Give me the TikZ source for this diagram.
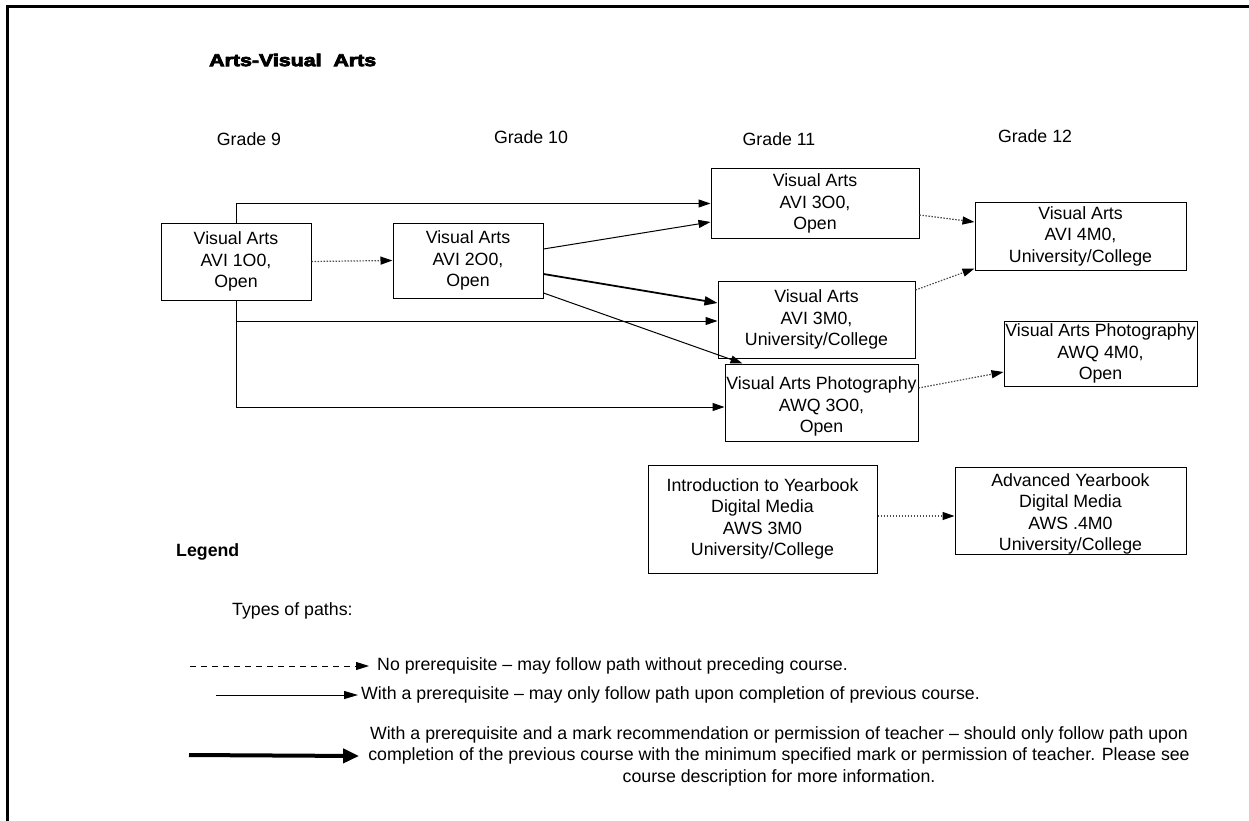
\documentclass[tikz,border=0pt]{standalone}
\usepackage{fontspec}
\setmainfont{Liberation Sans}
\newfontfamily\heavyfont[FakeBold=4]{Liberation Sans Bold}
\usetikzlibrary{arrows.meta}
\newcommand\bodysize{\fontsize{17.75pt}{21.5pt}\selectfont}

\begin{document}
\begin{tikzpicture}[x=1pt,y=-1pt,
  course/.style={draw, line width=1pt, align=center, inner sep=0pt, font=\bodysize},
  plaintext/.style={font=\bodysize, inner sep=0pt},
  reqarrow/.style={line width=1pt, -{Triangle[length=12pt,width=8pt]}},
  markarrow/.style={line width=1.8pt, -{Triangle[length=13pt,width=9pt]}},
  freearrow/.style={line width=1.2pt, black!70, dash pattern=on 1.5pt off 1.5pt,
    -{Triangle[length=12pt,width=8pt,color=black]}},
  legdash/.style={line width=0.9pt, dash pattern=on 6pt off 5pt,
    -{Triangle[length=13pt,width=8pt]}},
  legsolid/.style={line width=1pt, -{Triangle[length=14pt,width=8pt]}},
  legthick/.style={line width=4pt, -{Triangle[length=16pt,width=14pt]}}]

\useasboundingbox (0,0) rectangle (1249,821);
\fill[white] (0,0) rectangle (1249,821);

% page frame (top and left edges)
\draw[line width=3pt] (7.5,821) -- (7.5,6.5) -- (1249,6.5);

% heading
\node[anchor=west, inner sep=0pt] (title) at (209,60)
  {\resizebox{167pt}{12.5pt}{\heavyfont Arts-Visual\ \ Arts}};

% grade headings
\node[plaintext] (g9)  at (249,139) {Grade 9};
\node[plaintext] (g10) at (531,137) {Grade 10};
\node[plaintext] (g11) at (779,139) {Grade 11};
\node[plaintext] (g12) at (1035,136) {Grade 12};

% courses
\node[course, minimum width=150pt, minimum height=77pt] (b1) at (236,261.5)
  {Visual Arts\\AVI 1O0,\\Open};
\node[course, minimum width=150pt, minimum height=75pt] (b2) at (468,260.5)
  {Visual Arts\\AVI 2O0,\\Open};
\node[course, minimum width=208pt, minimum height=69pt] (b3) at (815,203.5)
  {Visual Arts\\AVI 3O0,\\Open};
\node[course, minimum width=197pt, minimum height=77pt] (b4) at (816.5,319.5)
  {Visual Arts\\AVI 3M0,\\University/College};
\node[course, minimum width=193pt, minimum height=77pt, text height=60pt, text depth=0pt]
  (b5) at (821.5,402.5) {Visual Arts Photography\\AWQ 3O0,\\Open};
\node[course, minimum width=211pt, minimum height=68pt] (b6) at (1080.5,236)
  {Visual Arts\\AVI 4M0,\\University/College};
\node[course, minimum width=193pt, minimum height=65pt] (b7) at (1100.5,353.5)
  {Visual Arts Photography\\AWQ 4M0,\\Open};
\node[course, minimum width=229pt, minimum height=108pt] (b8) at (762.5,519)
  {Introduction to Yearbook\\Digital Media\\AWS 3M0\\University/College};
\node[course, minimum width=231pt, minimum height=87pt, text height=80pt, text depth=0pt]
  (b9) at (1070.5,510.5)
  {Advanced Yearbook\\Digital Media\\AWS .4M0\\University/College};

% paths between courses
\draw[freearrow] (b1.east) -- (b2.west);
\draw[reqarrow] (b1.north) |- (b3.west);
\draw[reqarrow] (b1.south) |- ([yshift=-1.5pt]b4.west);
\draw[reqarrow] (b1.south) |- ([yshift=-4.5pt]b5.west);
\draw[reqarrow] ([yshift=11.5pt]b2.east) -- ([yshift=-18.5pt]b3.west);
\draw[markarrow] ([yshift=-13.5pt]b2.east) -- ([yshift=16.5pt]b4.west);
\draw[reqarrow] ([yshift=-32.5pt]b2.east) -- ([xshift=18pt]b5.north west);
\draw[freearrow] ([yshift=-11.5pt]b3.east) -- ([yshift=14pt]b6.west);
\draw[freearrow] ([yshift=29.5pt]b4.east) -- ([yshift=2pt]b6.south west);
\draw[freearrow] ([yshift=14.5pt]b5.east) -- ([yshift=-18.5pt]b7.west);
\draw[freearrow] ([yshift=3pt]b8.east) -- ([yshift=-5.5pt]b9.west);

% legend
\node[anchor=west, inner sep=0pt, font=\bfseries\bodysize] (legend) at (176,552) {Legend};
\node[plaintext, anchor=west] (types) at (232,611) {Types of paths:};

\coordinate (ln1) at (190,666);
\node[plaintext, anchor=west] (lt1) at (377,666)
  {No prerequisite – may follow path without preceding course.};
\draw[legdash] (ln1) -- ([xshift=-8pt]lt1.west);

\coordinate (ln2) at (216,695);
\node[plaintext, anchor=west] (lt2) at (361,695)
  {With a prerequisite – may only follow path upon completion of previous course.};
\draw[legsolid] (ln2) -- ([xshift=-3pt]lt2.west);

\coordinate (ln3) at (189,755);
\node[plaintext, align=center] (lt3) at (779,756)
  {With a prerequisite and a mark recommendation or permission of teacher – should only follow path upon\\
   completion of the previous course with the minimum specified mark or permission of teacher. Please see\\
   course description for more information.};
\draw[legthick] (ln3) -- ([xshift=-9pt]lt3.west);

\end{tikzpicture}
\end{document}
